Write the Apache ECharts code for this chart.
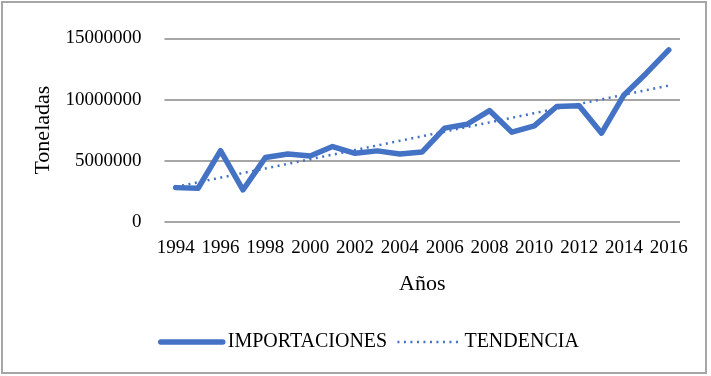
<!DOCTYPE html>
<html><head><meta charset="utf-8">
<script src="https://cdn.jsdelivr.net/npm/echarts@6/dist/echarts.min.js"></script>
<style>html,body{margin:0;padding:0;background:#fff}#c{width:711px;height:376px}</style>
</head><body><div id="c"></div>
<script>
const years = ['1994','1995','1996','1997','1998','1999','2000','2001','2002','2003','2004','2005','2006','2007','2008','2009','2010','2011','2012','2013','2014','2015','2016'];
const importaciones = [2790000,2740000,5820000,2600000,5250000,5550000,5380000,6150000,5600000,5800000,5550000,5710000,7660000,7980000,9100000,7330000,7840000,9430000,9500000,7250000,10380000,12160000,14070000];
// Trend line: endpoints, joined by a straight segment
const tendencia = [2850000,null,null,null,null,null,null,null,null,null,null,null,null,null,null,null,null,null,null,null,null,null,11150000];
const yTicks = [0,5000000,10000000,15000000];

const chart = echarts.init(document.getElementById('c'));
const font = '"Liberation Serif","Times New Roman",serif';
chart.setOption({
  animation:false,
  textStyle:{fontFamily:font},
  graphic:[{type:'rect',shape:{x:2,y:2,width:704,height:371},style:{fill:'none',stroke:'#a6a6a6',lineWidth:2},silent:true}],
  grid:{left:164.5,right:31,top:38.5,bottom:154.3},
  legend:{left:153,top:327,itemWidth:62,itemHeight:14,itemGap:9,
    itemStyle:{opacity:0},
    textStyle:{fontFamily:font,fontSize:20,color:'#000',padding:[0,0,0,0]},
    data:[{name:'IMPORTACIONES',lineStyle:{width:5.5,cap:'round'}},
          {name:'TENDENCIA',lineStyle:{width:2.5,type:[2,4.5]}}]},
  xAxis:{type:'category',data:years,boundaryGap:true,
    name:'Años',nameLocation:'middle',nameGap:52,
    nameTextStyle:{fontFamily:font,fontSize:22,color:'#000'},
    axisLine:{show:false},axisTick:{show:false},
    axisLabel:{interval:1,margin:17,fontFamily:font,fontSize:19,color:'#000'}},
  yAxis:{type:'value',min:0,max:15000000,interval:5000000,
    name:'Toneladas',nameLocation:'middle',nameGap:108,
    nameTextStyle:{fontFamily:font,fontSize:22,color:'#000'},
    axisLine:{show:false},axisTick:{show:false},
    axisLabel:{margin:23,fontFamily:font,fontSize:19,color:'#000',
      formatter:v=>yTicks.indexOf(v)>=0?String(v):''},
    splitLine:{lineStyle:{color:'#a6a6a6',width:2}}},
  series:[
    {name:'IMPORTACIONES',type:'line',data:importaciones,showSymbol:false,symbol:'none',
      lineStyle:{color:'#4472c4',width:5.5,cap:'round',join:'round'},itemStyle:{color:'#4472c4'},z:3},
    {name:'TENDENCIA',type:'line',data:tendencia,connectNulls:true,showSymbol:false,symbol:'none',
      lineStyle:{color:'#4472c4',width:2.5,type:[2,4.5]},itemStyle:{color:'#4472c4'},z:2}
  ]
});
</script></body></html>
